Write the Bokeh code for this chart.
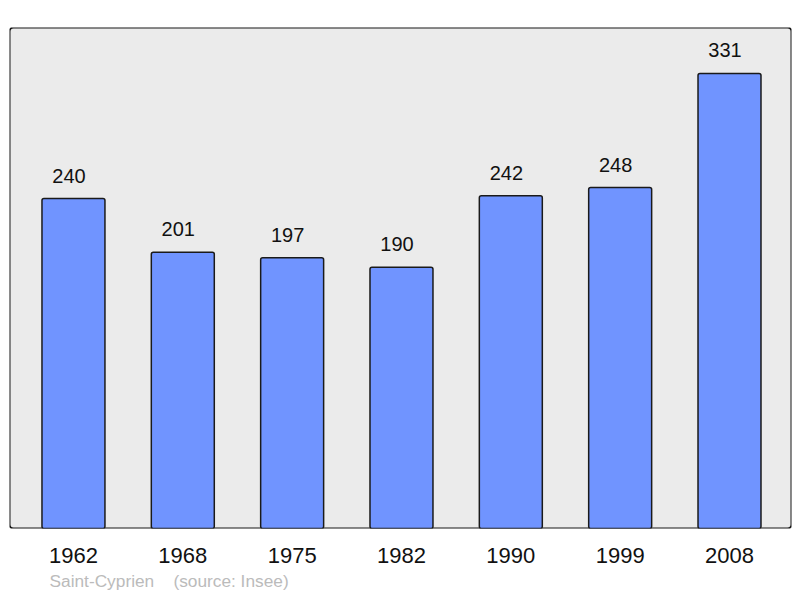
from bokeh.plotting import figure
from bokeh.models import Range1d, FixedTicker, Title, BoxAnnotation, ColumnDataSource
from bokeh.core.properties import value
from bokeh.embed import file_html
from bokeh.resources import INLINE

years = ["1962", "1968", "1975", "1982", "1990", "1999", "2008"]
population = [240, 201, 197, 190, 242, 248, 331]
commune = "Saint-Cyprien"
source_note = "(source: Insee)"

FONT = "Liberation Sans"
idx = list(range(len(years)))
src = ColumnDataSource(dict(x=idx, top=population, label=[str(v) for v in population]))

p = figure(width=800, height=598, output_backend="svg", toolbar_location=None,
           x_range=Range1d(-0.585, 6.567), y_range=Range1d(0, 364.4),
           min_border_left=9, min_border_right=9, min_border_top=27, min_border_bottom=70)
p.background_fill_color = "white"
p.border_fill_color = "white"
p.outline_line_color = None
p.grid.visible = False
p.yaxis.visible = False

bg = BoxAnnotation(fill_color="#ebebeb", fill_alpha=1, line_color="#1a1a1a", line_alpha=1,
                   line_width=2, border_radius=4, level="underlay")
p.add_layout(bg)

p.vbar(x="x", top="top", bottom=0, width=0.576, source=src, fill_color="#7094ff",
       line_color="#1a1a1a", line_width=1.5, border_radius=2)

p.text(x="x", y="top", text="label", source=src, text_align="center",
       text_baseline="alphabetic", x_offset=-4.5, y_offset=-23,
       text_font=value(FONT), text_font_size="20px", text_color="#111111")

ax = p.xaxis[0]
ax.ticker = FixedTicker(ticks=idx)
ax.major_label_overrides = {i: y for i, y in zip(idx, years)}
ax.axis_line_color = None
ax.major_tick_line_color = None
ax.minor_tick_line_color = None
ax.major_tick_out = 0
ax.major_tick_in = 0
ax.major_label_standoff = 19
ax.major_label_text_font = FONT
ax.major_label_text_font_size = "22px"
ax.major_label_text_color = "#111111"

note = Title(text=commune + "\u00a0\u00a0\u00a0\u00a0" + source_note, align="left", offset=40,
             text_font=FONT, text_font_size="17.3px", text_color="#bbbbbb",
             text_font_style="normal", standoff=6)
p.add_layout(note, "below")

open("out.html", "w").write(file_html(p, INLINE))
